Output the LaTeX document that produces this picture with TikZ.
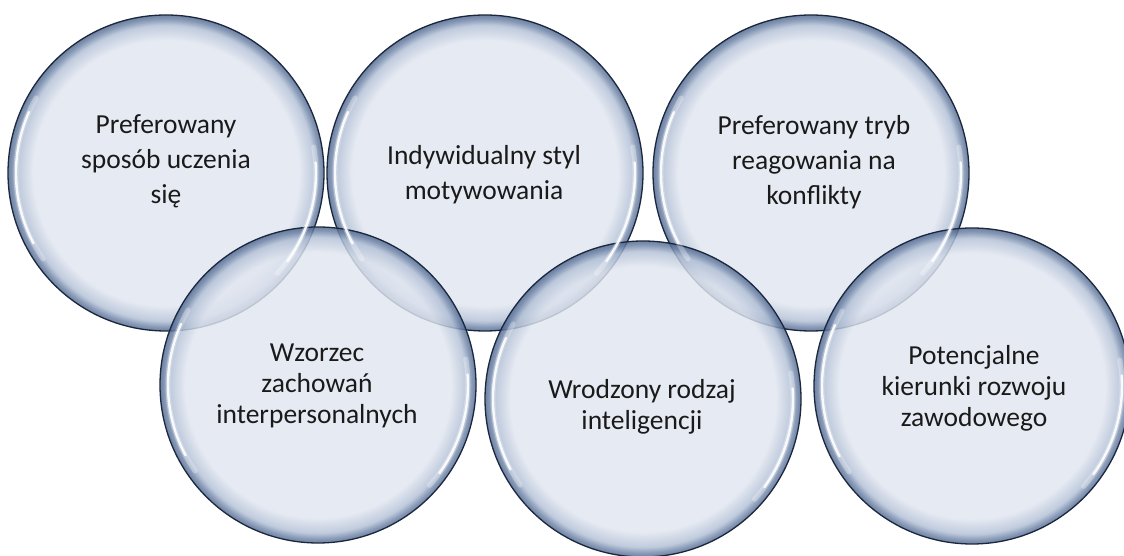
\documentclass[tikz,border=0pt]{standalone}
\usepackage{fontspec}
\setmainfont{Carlito}
\definecolor{bin}{HTML}{E1E6F0}
\definecolor{bmid}{HTML}{B2C0D6}
\definecolor{bedge}{HTML}{4E6790}
\definecolor{bline}{HTML}{1B273C}
\definecolor{btext}{HTML}{1A1A1A}
\pgfdeclareradialshading{bubble}{\pgfpoint{0bp}{0bp}}{color(0bp)=(bin); color(21bp)=(bin); color(23.4bp)=(bmid); color(24.4bp)=(bedge!70!bmid); color(25bp)=(bedge); color(50bp)=(bedge)}
\tikzset{
  bubble/.style={circle, minimum size=316pt, inner sep=0pt, shading=bubble, fill opacity=0.82, draw=bline, draw opacity=1, line width=1.3pt},
  hl/.style={white, line width=2.4pt, line cap=round, opacity=0.9},
  hlsoft/.style={white, line width=5pt, line cap=round, opacity=0.3},
  toptext/.style={align=center, text=btext, font=\fontsize{27.5}{35}\selectfont},
  bottext/.style={align=center, text=btext, font=\fontsize{27.5}{31}\selectfont},
}
\begin{document}
\begin{tikzpicture}[x=1pt,y=1pt]
\useasboundingbox (0,0) rectangle (1124,556);
\fill[white] (0,0) rectangle (1124,556);
% circles
\node[bubble] (c1) at (166,383) {};
\node[bubble] (c2) at (485,383) {};
\node[bubble] (c3) at (811,383) {};
\node[bubble] (c4) at (318,171) {};
\node[bubble] (c5) at (643,157) {};
\node[bubble] (c6) at (972,170) {};
% highlights
\foreach \c in {c1,c2,c3,c4,c5,c6}{
  \draw[hlsoft] ([shift={(150:150)}]\c.center) arc[start angle=150,end angle=215,radius=150];
  \draw[hl] ([shift={(156:150)}]\c.center) arc[start angle=156,end angle=208,radius=150];
  \draw[hlsoft] ([shift={(-42:150)}]\c.center) arc[start angle=-42,end angle=10,radius=150];
  \draw[hl] ([shift={(-36:150)}]\c.center) arc[start angle=-36,end angle=4,radius=150];
}
% texts
\node[toptext] (t1) at (166,395) {Preferowany\\sposób uczenia\\się};
\node[toptext] (t2) at (484,381) {Indywidualny styl\\motywowania};
\node[toptext] (t3) at (814,394) {Preferowany tryb\\reagowania na\\konflikty};
\node[bottext] (t4) at (317,170) {Wzorzec\\zachowań\\interpersonalnych};
\node[bottext] (t5) at (642,149) {Wrodzony rodzaj\\inteligencji};
\node[bottext] (t6) at (974,168) {Potencjalne\\kierunki rozwoju\\zawodowego};
\end{tikzpicture}
\end{document}
